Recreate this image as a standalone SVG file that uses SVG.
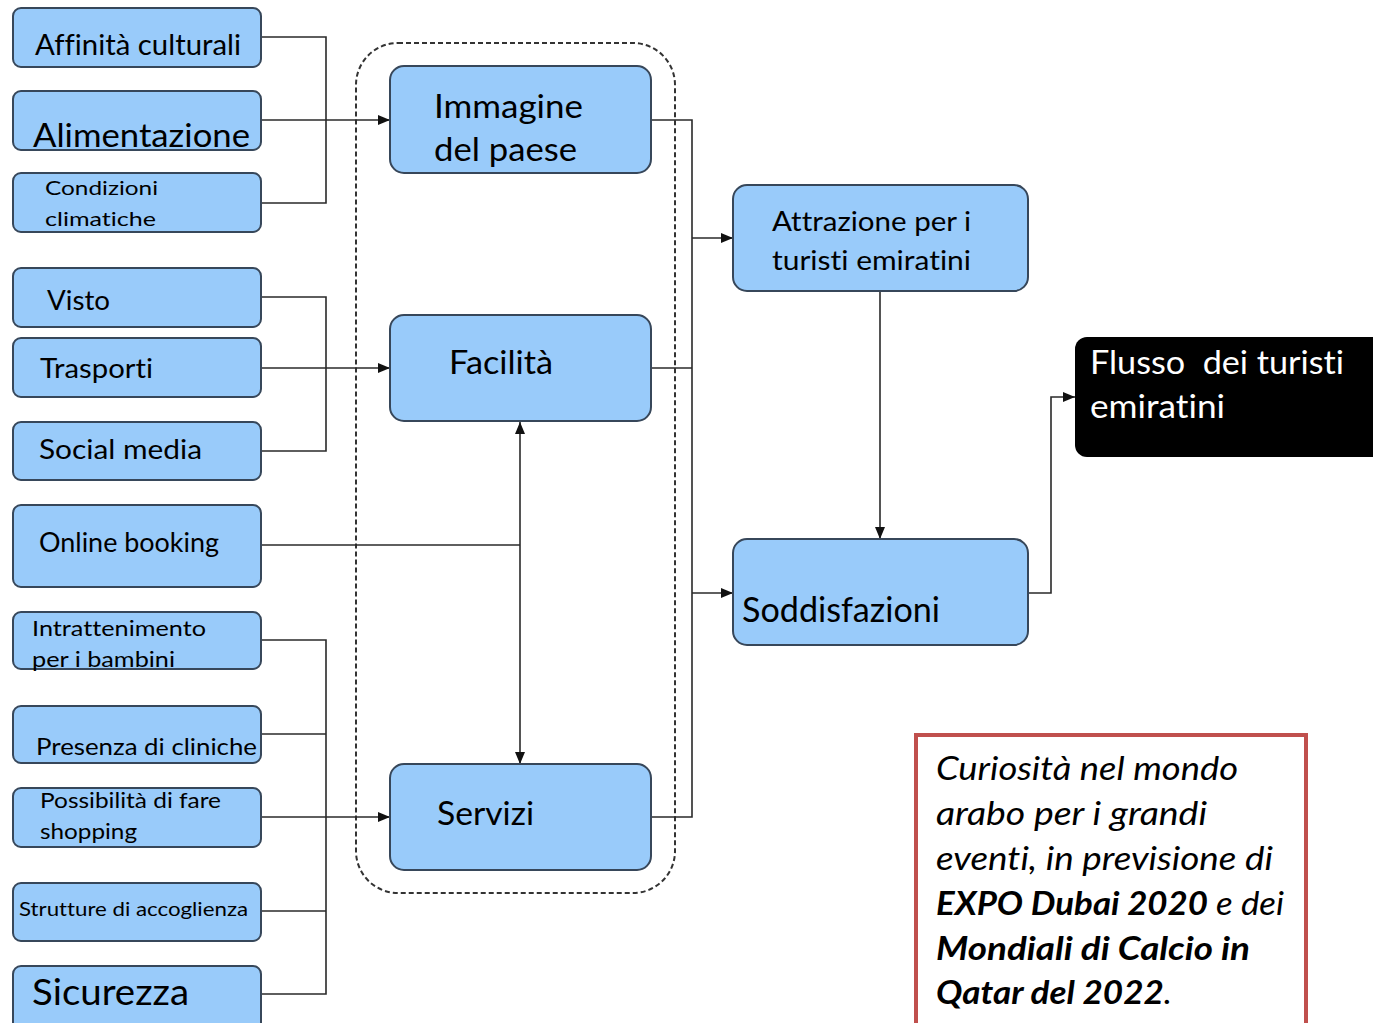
<svg xmlns="http://www.w3.org/2000/svg" width="1373" height="1023" viewBox="0 0 1373 1023">
<style>
text{font-variant-ligatures:none}
.box{fill:#99cbfa;stroke:#37475a;stroke-width:2}
.t{font-family:Lato,"Liberation Sans",sans-serif;fill:#000}
.w{font-family:Lato,"Liberation Sans",sans-serif;fill:#fff}
.c{fill:none;stroke:#2a2a2a;stroke-width:1.6}
.it{font-family:Lato,"Liberation Sans",sans-serif;font-style:italic;fill:#000}
</style>
<defs>
<marker id="ah" viewBox="0 0 12 10" refX="12" refY="5" markerWidth="12" markerHeight="10" markerUnits="userSpaceOnUse" orient="auto-start-reverse">
<path d="M0,0 L12,5 L0,10 z" fill="#111"/>
</marker>
</defs>
<rect width="1373" height="1023" fill="#fff"/>
<rect id="container" x="356" y="43" width="319" height="850" rx="42" fill="none" stroke="#333" stroke-width="2" stroke-dasharray="5 3"/>
<g id="connectors">
<path class="c" d="M261,37 H326 V203 H261"/>
<path class="c" d="M261,120 H390" marker-end="url(#ah)"/>
<path class="c" d="M261,297 H326 V451 H261"/>
<path class="c" d="M261,368 H390" marker-end="url(#ah)"/>
<path class="c" d="M261,545 H520"/>
<path class="c" d="M520,422 V764" marker-start="url(#ah)" marker-end="url(#ah)"/>
<path class="c" d="M261,640 H326 V994 H261"/>
<path class="c" d="M261,734 H326"/>
<path class="c" d="M261,911 H326"/>
<path class="c" d="M261,817 H390" marker-end="url(#ah)"/>
<path class="c" d="M651,120 H692 V817 H651"/>
<path class="c" d="M651,368 H692"/>
<path class="c" d="M692,238 H733" marker-end="url(#ah)"/>
<path class="c" d="M692,593 H733" marker-end="url(#ah)"/>
<path class="c" d="M880,291 V539" marker-end="url(#ah)"/>
<path class="c" d="M1028,593 H1051 V397 H1075" marker-end="url(#ah)"/>
</g>
<g id="n-affinita"><rect class="box" x="13" y="8" width="248" height="59" rx="8"/><text class="t" x="35" y="55" font-size="28" textLength="206" lengthAdjust="spacingAndGlyphs">Affinità culturali</text></g>
<g id="n-alimentazione"><rect class="box" x="13" y="91" width="248" height="59" rx="8"/><text class="t" x="33" y="147" font-size="33" textLength="217" lengthAdjust="spacingAndGlyphs">Alimentazione</text></g>
<g id="n-condizioni"><rect class="box" x="13" y="173" width="248" height="59" rx="8"/><text class="t" x="45" y="195" font-size="20" textLength="113" lengthAdjust="spacingAndGlyphs">Condizioni</text><text class="t" x="45" y="226" font-size="20" textLength="111" lengthAdjust="spacingAndGlyphs">climatiche</text></g>
<g id="n-visto"><rect class="box" x="13" y="268" width="248" height="59" rx="8"/><text class="t" x="47" y="310" font-size="27" textLength="63" lengthAdjust="spacingAndGlyphs">Visto</text></g>
<g id="n-trasporti"><rect class="box" x="13" y="338" width="248" height="59" rx="8"/><text class="t" x="40" y="378" font-size="27" textLength="113" lengthAdjust="spacingAndGlyphs">Trasporti</text></g>
<g id="n-social"><rect class="box" x="13" y="422" width="248" height="58" rx="8"/><text class="t" x="39" y="459" font-size="27" textLength="163" lengthAdjust="spacingAndGlyphs">Social media</text></g>
<g id="n-online"><rect class="box" x="13" y="505" width="248" height="82" rx="8"/><text class="t" x="39" y="552" font-size="26" textLength="180" lengthAdjust="spacingAndGlyphs">Online booking</text></g>
<g id="n-intrattenimento"><rect class="box" x="13" y="612" width="248" height="57" rx="8"/><text class="t" x="32" y="636" font-size="22" textLength="174" lengthAdjust="spacingAndGlyphs">Intrattenimento</text><text class="t" x="32" y="667" font-size="22" textLength="143" lengthAdjust="spacingAndGlyphs">per i bambini</text></g>
<g id="n-presenza"><rect class="box" x="13" y="706" width="248" height="57" rx="8"/><text class="t" x="36" y="755" font-size="24" textLength="221" lengthAdjust="spacingAndGlyphs">Presenza di cliniche</text></g>
<g id="n-possibilita"><rect class="box" x="13" y="788" width="248" height="59" rx="8"/><text class="t" x="40" y="808" font-size="22" textLength="181" lengthAdjust="spacingAndGlyphs">Possibilità di fare</text><text class="t" x="40" y="839" font-size="22" textLength="97" lengthAdjust="spacingAndGlyphs">shopping</text></g>
<g id="n-strutture"><rect class="box" x="13" y="883" width="248" height="58" rx="8"/><text class="t" x="19" y="916" font-size="20" textLength="229" lengthAdjust="spacingAndGlyphs">Strutture di accoglienza</text></g>
<g id="n-sicurezza"><rect class="box" x="13" y="966" width="248" height="70" rx="8"/><text class="t" x="32" y="1005" font-size="37" textLength="157" lengthAdjust="spacingAndGlyphs">Sicurezza</text></g>
<g id="n-immagine"><rect class="box" x="390" y="66" width="261" height="107" rx="14"/><text class="t" x="434" y="118" font-size="32" textLength="149" lengthAdjust="spacingAndGlyphs">Immagine</text><text class="t" x="434" y="161" font-size="32" textLength="143" lengthAdjust="spacingAndGlyphs">del paese</text></g>
<g id="n-facilita"><rect class="box" x="390" y="315" width="261" height="106" rx="14"/><text class="t" x="449" y="374" font-size="32" textLength="104" lengthAdjust="spacingAndGlyphs">Facilità</text></g>
<g id="n-servizi"><rect class="box" x="390" y="764" width="261" height="106" rx="14"/><text class="t" x="437" y="825" font-size="32" textLength="97" lengthAdjust="spacingAndGlyphs">Servizi</text></g>
<g id="n-attrazione"><rect class="box" x="733" y="185" width="295" height="106" rx="14"/><text class="t" x="772" y="231" font-size="27" textLength="199" lengthAdjust="spacingAndGlyphs">Attrazione per i</text><text class="t" x="772" y="270" font-size="27" textLength="199" lengthAdjust="spacingAndGlyphs">turisti emiratini</text></g>
<g id="n-soddisfazioni"><rect class="box" x="733" y="539" width="295" height="106" rx="14"/><text class="t" x="742" y="622" font-size="34" textLength="198" lengthAdjust="spacingAndGlyphs">Soddisfazioni</text></g>
<g id="n-flusso"><rect x="1075" y="337" width="310" height="120" rx="12" fill="#000"/><text class="w" x="1090" y="374" font-size="32" textLength="254" lengthAdjust="spacingAndGlyphs" xml:space="preserve">Flusso  dei turisti</text><text class="w" x="1090" y="418" font-size="32" textLength="135" lengthAdjust="spacingAndGlyphs">emiratini</text></g>
<g id="n-note"><rect x="916" y="735" width="390" height="310" fill="#fff" stroke="#c0504d" stroke-width="4"/>
<text class="it" x="936" y="780" font-size="32" textLength="302" lengthAdjust="spacingAndGlyphs">Curiosità nel mondo</text>
<text class="it" x="936" y="825" font-size="32" textLength="271" lengthAdjust="spacingAndGlyphs">arabo per i grandi</text>
<text class="it" x="936" y="870" font-size="32" textLength="337" lengthAdjust="spacingAndGlyphs">eventi, in previsione di</text>
<text class="it" x="936" y="915" font-size="32" textLength="348" lengthAdjust="spacingAndGlyphs"><tspan font-weight="bold">EXPO Dubai 2020</tspan> e dei</text>
<text class="it" x="936" y="960" font-size="32" font-weight="bold" textLength="314" lengthAdjust="spacingAndGlyphs">Mondiali di Calcio in</text>
<text class="it" x="936" y="1004" font-size="32" textLength="236" lengthAdjust="spacingAndGlyphs"><tspan font-weight="bold">Qatar del 2022</tspan>.</text>
</g>
</svg>
